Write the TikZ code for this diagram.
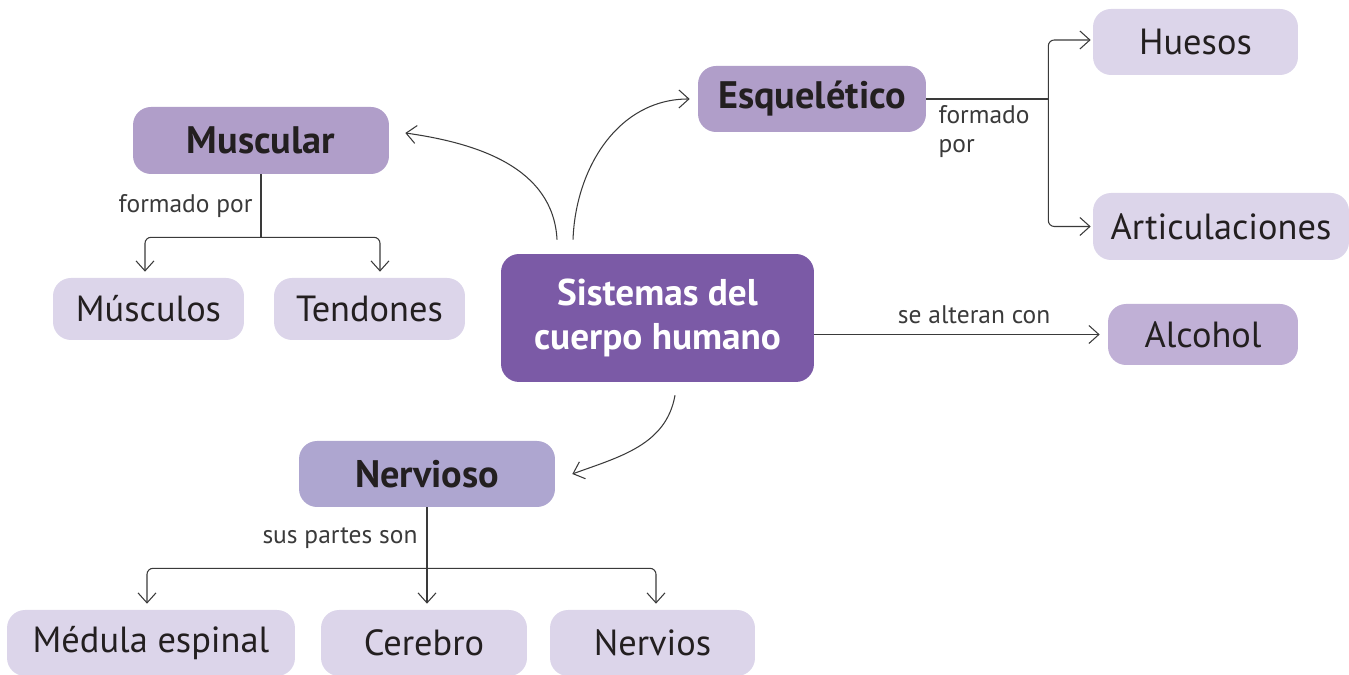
\documentclass[tikz,border=0pt]{standalone}
\usepackage{fontspec}
\setmainfont{PT Sans}
\usetikzlibrary{arrows.meta}
\definecolor{morado}{HTML}{7B5AA6}
\definecolor{lila}{HTML}{B09EC9}
\definecolor{lilaazul}{HTML}{AEA6D0}
\definecolor{lilamedio}{HTML}{C0B0D6}
\definecolor{lilaclaro}{HTML}{DCD5EA}
\definecolor{texto}{HTML}{231F20}
\definecolor{gris}{HTML}{3A3A3A}
\tikzstyle{linea} = [draw=gris, line width=0.6pt]

\begin{document}
\begin{tikzpicture}[x=0.02cm, y=0.02cm, >={Straight Barb[length=2mm,width=3.6mm]},
				caja/.style={rounded corners=0.36cm, inner sep=0pt, text=texto, align=center},
				tam/.style 2 args={minimum width=#1cm, minimum height=#2cm},
				titulo/.style={font=\bfseries\fontsize{21.8}{26}\selectfont},
				hoja/.style={fill=lilaclaro, font=\fontsize{20.7}{24}\selectfont},
				etiq/.style={font=\fontsize{14.5}{16.5}\selectfont, text=gris, inner sep=0pt}]
				\useasboundingbox (0,0) rectangle (1349,675);
				%Centro
				\node[caja, tam={6.26}{2.56}, fill=morado, text=white, font=\bfseries\fontsize{21.2}{25.5}\selectfont] (sis) at (657.5,357) {Sistemas del\\cuerpo humano};
				%Sistemas
				\node[caja, titulo, tam={5.12}{1.34}, fill=lila] (mus) at (261,534.5) {Muscular};
				\node[caja, titulo, tam={4.56}{1.32}, fill=lila] (esq) at (812,576) {Esquelético};
				\node[caja, titulo, tam={5.12}{1.32}, fill=lilaazul] (ner) at (427,201) {Nervioso};
				\node[caja, hoja, tam={3.8}{1.22}, fill=lilamedio] (alc) at (1203,340.5) {Alcohol};
				%Partes
				\node[caja, hoja, tam={4.1}{1.32}] (hue) at (1195.5,633) {Huesos};
				\node[caja, hoja, tam={5.12}{1.34}] (art) at (1221,448.5) {Articulaciones};
				\node[caja, hoja, tam={3.82}{1.24}] (msc) at (148.5,366) {Músculos};
				\node[caja, hoja, tam={3.82}{1.24}] (ten) at (369.5,366) {Tendones};
				\node[caja, hoja, tam={5.76}{1.32}] (med) at (151,32) {Médula espinal};
				\node[caja, hoja, tam={4.12}{1.32}] (cer) at (424,32) {Cerebro};
				\node[caja, hoja, tam={4.1}{1.32}] (nrv) at (652.5,32) {Nervios};
				%Flechas curvas
				\draw[linea, ->] ([xshift=-2.01cm,yshift=0.28cm]sis.north) to[out=93, in=-8] ([xshift=0.32cm,yshift=0.15cm]mus.east);
				\draw[linea, ->] ([xshift=-1.69cm,yshift=0.28cm]sis.north) to[out=88, in=180] ([xshift=-0.16cm]esq.west);
				\draw[linea, ->] ([xshift=0.35cm,yshift=-0.26cm]sis.south) to[out=-100, in=20] ([xshift=0.34cm]ner.east);
				\draw[linea, ->] (sis.east |- alc.west) -- node[etiq, above=0.2cm, pos=0.56] {se alteran con} ([xshift=-0.16cm]alc.west);
				%Esquelético
				\coordinate (esqj) at ([xshift=2.44cm]esq.east);
				\draw[linea] (esq.east) -- (esqj);
				\draw[linea, ->, rounded corners=0.12cm] (esqj) |- ([xshift=-0.04cm,yshift=0.04cm]hue.west);
				\draw[linea, ->, rounded corners=0.12cm] (esqj) |- ([xshift=-0.04cm]art.west);
				\node[etiq, anchor=north west, align=left] (lesq) at ([xshift=0.24cm,yshift=-0.12cm]esq.east) {formado\\por};
				%Muscular
				\coordinate (musj) at ([yshift=-1.26cm]mus.south);
				\draw[linea] (mus.south) -- node[etiq, left=0.16cm] {formado por} (musj);
				\draw[linea, ->, rounded corners=0.12cm] (musj) -| ([xshift=-0.07cm,yshift=0.12cm]msc.north);
				\draw[linea, ->, rounded corners=0.12cm] (musj) -| ([xshift=0.21cm,yshift=0.12cm]ten.north);
				%Nervioso
				\coordinate (nerj) at ([yshift=-1.22cm]ner.south);
				\draw[linea] (ner.south) -- node[etiq, left=0.18cm] {sus partes son} (nerj);
				\draw[linea, ->] (nerj) -- ([yshift=0.12cm]nerj |- cer.north);
				\draw[linea, ->, rounded corners=0.12cm] (nerj) -| ([xshift=-0.08cm,yshift=0.12cm]med.north);
				\draw[linea, ->, rounded corners=0.12cm] (nerj) -| ([xshift=0.07cm,yshift=0.12cm]nrv.north);
			\end{tikzpicture}
\end{document}
